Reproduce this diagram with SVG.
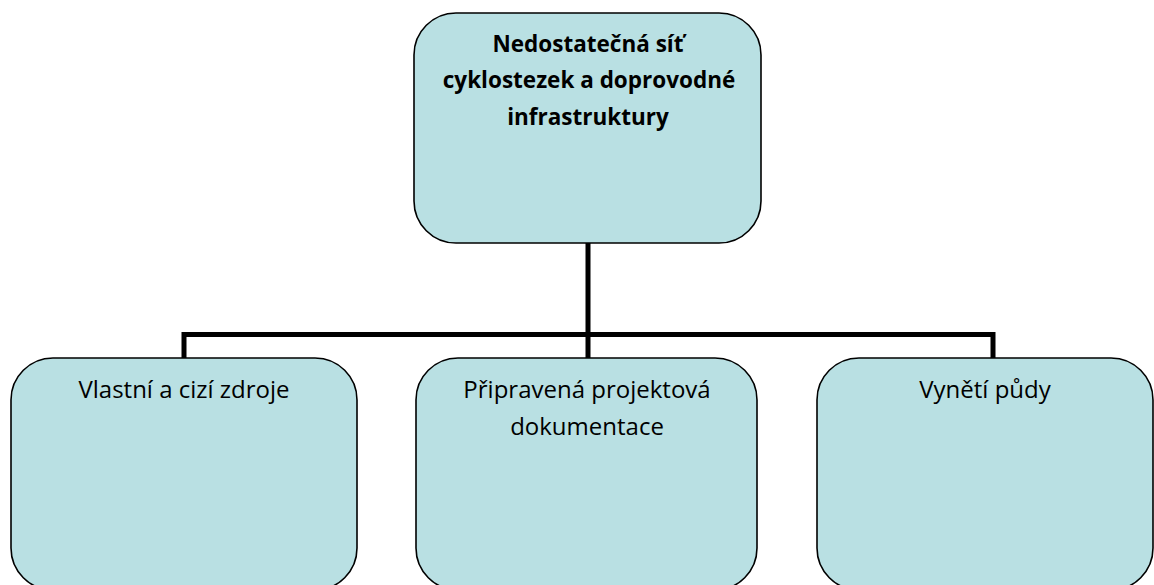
<svg xmlns="http://www.w3.org/2000/svg" width="1154" height="585" viewBox="0 0 1154 585">
<style>
.box{fill:#b9e0e3;stroke:#000;stroke-width:1.6}
.t{font-family:"Open Sans","Liberation Sans",sans-serif;font-size:24px;fill:#000;text-anchor:middle}
.b{font-weight:bold;font-size:22.5px}
.c{fill:none;stroke:#000;stroke-width:5;stroke-linejoin:miter;stroke-linecap:square}
</style>
<rect width="1154" height="585" fill="#fff"/>
<g id="connectors">
<path class="c" d="M588,243 V334.5 M184,357 V334.5 H993 V357 M588,334.5 V357"/>
</g>
<g id="root">
<rect class="box" x="414" y="13" width="347" height="230" rx="42"/>
<text class="t b" x="588" y="52">Nedostatečná síť</text>
<text class="t b" x="589" y="88">cyklostezek a doprovodné</text>
<text class="t b" x="588" y="125">infrastruktury</text>
</g>
<g id="n1">
<rect class="box" x="11" y="358" width="346" height="232" rx="42"/>
<text class="t" x="184" y="398">Vlastní a cizí zdroje</text>
</g>
<g id="n2">
<rect class="box" x="416" y="358" width="341" height="232" rx="42"/>
<text class="t" x="587" y="398">Připravená projektová</text>
<text class="t" x="587" y="435">dokumentace</text>
</g>
<g id="n3">
<rect class="box" x="817" y="358" width="336" height="232" rx="42"/>
<text class="t" x="985" y="398">Vynětí půdy</text>
</g>
</svg>
